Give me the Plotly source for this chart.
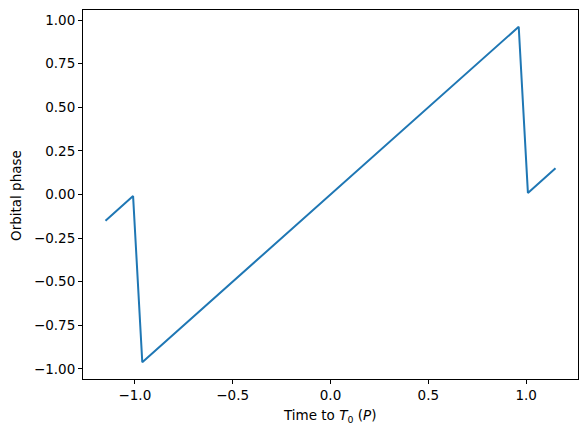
import plotly.graph_objects as go

time_to_t0 = [-1.15, -1.009, -0.962, 0.962, 1.009, 1.15]
orbital_phase = [-0.15, -0.009, -0.962, 0.962, 0.009, 0.15]

x_ticks = [-1.0, -0.5, 0.0, 0.5, 1.0]
y_ticks = [-1.0, -0.75, -0.5, -0.25, 0.0, 0.25, 0.5, 0.75, 1.0]

# page body has an 8px margin; compensate so the plot area lands where the reference has it
OFF = 8
W, H = 587 - OFF, 436 - OFF
L, R, T, B = 83 - OFF, 9, 10 - OFF, 57
pw, ph = W - L - R, H - T - B
plot_left, plot_bottom = 83, 379  # window pixel coords of plot area edges

fig = go.Figure()
fig.add_trace(go.Scatter(x=time_to_t0, y=orbital_phase, mode="lines",
                         line=dict(color="#1f77b4", width=2), showlegend=False))

font = dict(family="DejaVu Sans", size=13.5, color="black")
axis_common = dict(showgrid=False, zeroline=False, showline=True, linecolor="black",
                   linewidth=1, mirror=True, ticks="outside", ticklen=4, tickwidth=1,
                   tickcolor="black", tickfont=font, automargin=False)

fig.update_xaxes(range=[-1.265, 1.265], tickvals=x_ticks, tickformat=".1f", **axis_common)
fig.update_yaxes(range=[-1.058, 1.058], tickvals=y_ticks, tickformat=".2f", **axis_common)

fig.add_annotation(text="Time to <i>T</i><sub>0</sub> (<i>P</i>)", xref="paper", yref="paper",
                   x=(329 - plot_left) / pw, y=(plot_bottom - 416) / ph,
                   xanchor="center", yanchor="middle", showarrow=False, font=font)
fig.add_annotation(text="Orbital phase", xref="paper", yref="paper",
                   x=(16 - plot_left) / pw, y=(plot_bottom - 196) / ph,
                   xanchor="center", yanchor="middle", textangle=-90, showarrow=False, font=font)

fig.update_layout(width=W, height=H, margin=dict(l=L, r=R, t=T, b=B),
                  plot_bgcolor="white", paper_bgcolor="white",
                  font=dict(family="DejaVu Sans", color="black"))

fig.write_html("out.html")
